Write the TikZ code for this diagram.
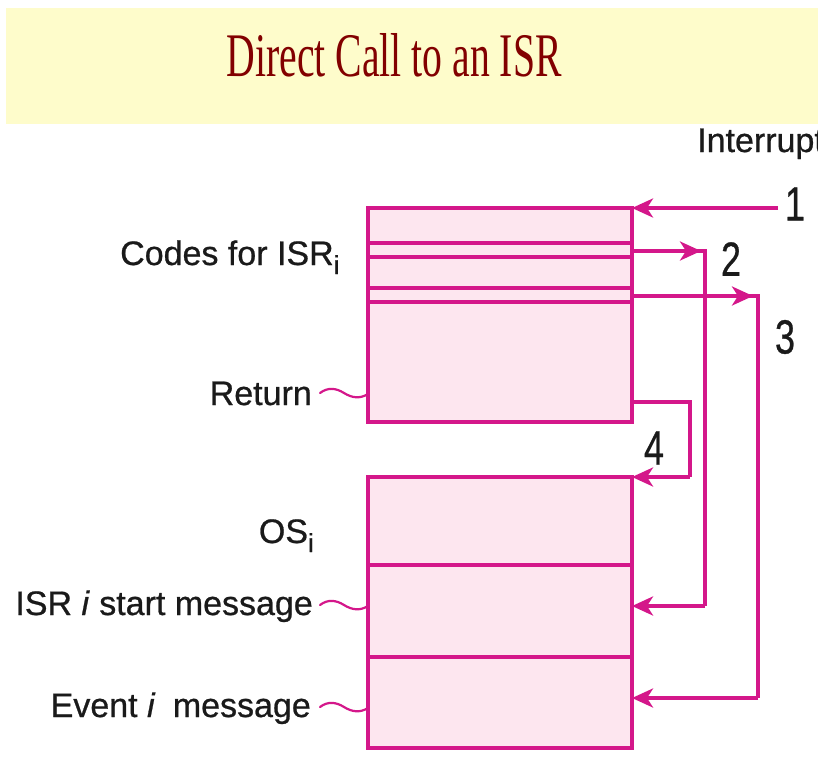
\documentclass[tikz,border=0pt]{standalone}
\usepackage{fontspec}
\setmainfont{Liberation Serif}
\newfontfamily\lsans[FakeBold=0.7]{Liberation Sans}
\usetikzlibrary{arrows.meta}
\definecolor{mag}{HTML}{D4178A}
\definecolor{pinkfill}{HTML}{FDE6EF}
\definecolor{band}{HTML}{FEFCCB}
\definecolor{titlered}{HTML}{820000}
\definecolor{ink}{HTML}{1A1A1A}
\begin{document}
\begin{tikzpicture}[x=1pt,y=-1pt,
  box/.style={draw=mag, fill=pinkfill, line width=3.5pt, inner sep=0pt, outer sep=0pt, anchor=north west, minimum width=264pt},
  sepline/.style={draw=mag, line width=3.5pt},
  conn/.style={draw=mag, line width=3.5pt},
  tipped/.style={-{Stealth[length=21pt,width=19pt,inset=6pt]}},
  lbl/.style={font=\lsans\fontsize{34}{40}\selectfont, text=ink, inner sep=0pt},
  num/.style={font=\lsans\fontsize{48}{50}\selectfont, text=ink, inner sep=0pt},
  wig/.style={draw=mag, line width=2.2pt, line cap=round},
]
\useasboundingbox (0,0) rectangle (818,771);
\fill[white] (0,0) rectangle (818,771);
\fill[band] (6,8) rectangle (818,124);
\node[anchor=base, text=titlered, font=\fontsize{62}{70}\selectfont, inner sep=0pt] (title) at (394,76) {\scalebox{0.64}[1]{Direct Call to an ISR}};

% boxes
\node[box, minimum height=214pt] (isr) at (368,208) {};
\node[box, minimum height=88pt] (os) at (368,477) {};
\node[box, minimum height=92pt] (start) at (368,565) {};
\node[box, minimum height=91pt] (event) at (368,657) {};

% separators in ISR code block
\draw[sepline] (368,243) -- (632,243);
\draw[sepline] (368,257) -- (632,257);
\draw[sepline] (368,288) -- (632,288);
\draw[sepline] (368,302) -- (632,302);

% coordinates
\coordinate (in1) at (778,208);
\coordinate (o2) at (632,251);
\coordinate (c2a) at (705,251);
\coordinate (c2b) at (705,606);
\coordinate (o3) at (632,296);
\coordinate (c3a) at (758,296);
\coordinate (c3b) at (758,698);
\coordinate (o4) at (632,402);
\coordinate (c4a) at (690,402);
\coordinate (c4b) at (690,477);

% connectors
\draw[conn,tipped] (in1) -- (isr.north east);
\draw[conn] (o2) -- (c2a) -- (c2b);
\draw[conn,tipped] (o2) -- (701,251);
\draw[conn,tipped] (c2b) -- (start.east |- c2b);
\draw[conn] (o3) -- (c3a) -- (c3b);
\draw[conn,tipped] (o3) -- (753,296);
\draw[conn,tipped] (c3b) -- (event.east |- c3b);
\draw[conn] (o4) -- (c4a) -- (c4b);
\draw[conn,tipped] (c4b) -- (os.north east);

% labels
\node[lbl, anchor=base west] (intr) at (697,152) {Interrupt};
\node[num] (n1) at (795,204) {\scalebox{0.75}[1]{1}};
\node[num] (n2) at (731,259) {\scalebox{0.75}[1]{2}};
\node[num] (n3) at (785,337) {\scalebox{0.75}[1]{3}};
\node[num] (n4) at (654,448) {\scalebox{0.75}[1]{4}};

\node[lbl, anchor=base west] (codes) at (120,265) {Codes for ISR\raisebox{-9pt}{\fontsize{26}{26}\selectfont i}};
\node[lbl, anchor=base east] (ret) at (312,405) {Return};
\node[lbl, anchor=base east] (osi) at (314,543) {OS\raisebox{-9pt}{\fontsize{26}{26}\selectfont i}};
\node[lbl, anchor=base east] (isrm) at (313,615) {ISR \textit{i} start message};
\node[lbl, anchor=base east] (evm) at (311,717) {Event \textit{i}\hspace{8pt} message};

% wiggles
\draw[wig] (320,393) .. controls (328,387) and (336,388) .. (344,393) .. controls (352,398) and (360,399) .. (368,394);
\draw[wig] (320,605) .. controls (328,599) and (336,600) .. (344,605) .. controls (352,610) and (360,611) .. (368,606);
\draw[wig] (320,707) .. controls (328,701) and (336,702) .. (344,707) .. controls (352,712) and (360,713) .. (368,708);
\end{tikzpicture}
\end{document}
